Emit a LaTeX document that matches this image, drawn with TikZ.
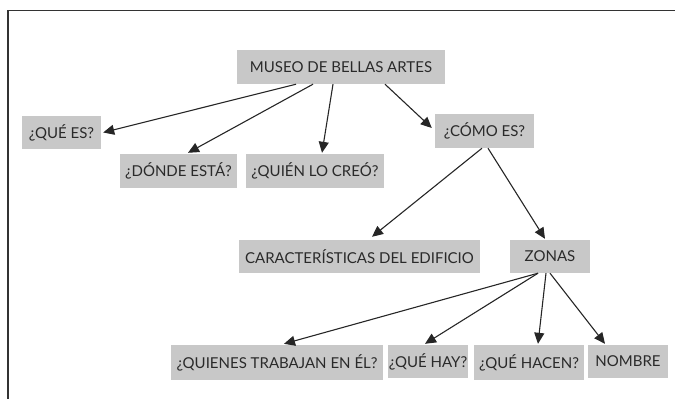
\documentclass[tikz,border=0pt]{standalone}
\usepackage{fontspec}
\setmainfont{Lato}
\usetikzlibrary{arrows.meta}
\definecolor{boxgray}{HTML}{C8C8C8}
\definecolor{txtgray}{HTML}{2A2A2A}
\definecolor{framegray}{HTML}{333333}
\tikzset{
  box/.style={fill=boxgray, draw=none, inner sep=0pt, text=txtgray,
    font=\fontsize{15}{17}\selectfont, anchor=center},
  conn/.style={draw=black!85, line width=1.1pt, -{Triangle[length=11pt,width=10pt]}},
}
\begin{document}
\begin{tikzpicture}[x=1pt,y=-1pt]
\useasboundingbox (0,0) rectangle (675,399);
\draw[framegray, line width=1.4pt] (8,399) -- (8,10.5) -- (675,10.5);

\node[box, minimum width=208, minimum height=34] (museo) at (341,67) {MUSEO DE BELLAS ARTES};
\node[box, minimum width=79, minimum height=33] (quees) at (61.5,132.5) {¿QUÉ ES?};
\node[box, minimum width=117, minimum height=34] (donde) at (178.5,171) {¿DÓNDE ESTÁ?};
\node[box, minimum width=138, minimum height=34] (quien) at (315,171) {¿QUIÉN LO CREÓ?};
\node[box, minimum width=99, minimum height=34] (como) at (484.5,131) {¿CÓMO ES?};
\node[box, minimum width=241, minimum height=33] (caract) at (359.5,256.5) {CARACTERÍSTICAS DEL EDIFICIO};
\node[box, minimum width=80, minimum height=33] (zonas) at (550,256.5) {ZONAS};
\node[box, minimum width=212, minimum height=35] (quienes) at (277,362.5) {¿QUIENES TRABAJAN EN ÉL?};
\node[box, minimum width=80, minimum height=33] (quehay) at (428,361.5) {¿QUÉ HAY?};
\node[box, minimum width=110, minimum height=35] (quehacen) at (529,362.5) {¿QUÉ HACEN?};
\node[box, minimum width=80, minimum height=33] (nombre) at (628,361.5) {NOMBRE};

\draw[conn] ([xshift=-45]museo.south) -- ([xshift=2]quees.east);
\draw[conn] ([xshift=-28]museo.south) -- ([xshift=9.5,yshift=1]donde.north);
\draw[conn] ([xshift=-8]museo.south) -- ([xshift=7,yshift=1]quien.north);
\draw[conn] ([xshift=44]museo.south) -- ([xshift=-3,yshift=3]como.west);
\draw[conn] ([xshift=-2.5]como.south) -- ([xshift=12.5,yshift=3]caract.north);
\draw[conn] ([xshift=3.5]como.south) -- ([xshift=-5,yshift=1]zonas.north);
\draw[conn] ([xshift=-12]zonas.south) -- ([xshift=7,yshift=1]quienes.north);
\draw[conn] ([xshift=-12]zonas.south) -- ([xshift=-3,yshift=1]quehay.north);
\draw[conn] ([xshift=-4]zonas.south) -- ([xshift=9,yshift=1]quehacen.north);
\draw[conn] ([xshift=0]zonas.south) -- ([xshift=-23,yshift=1]nombre.north);
\end{tikzpicture}
\end{document}
